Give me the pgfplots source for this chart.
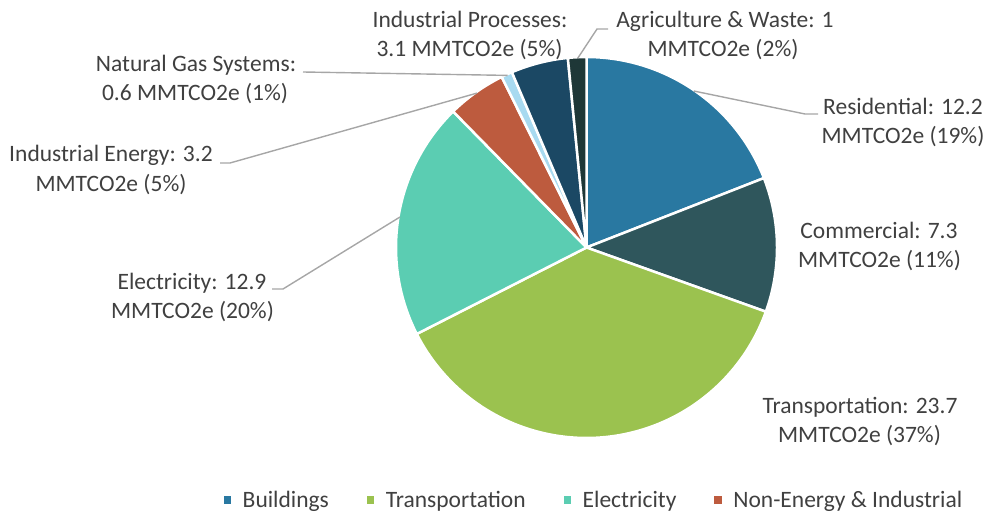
\documentclass[border=0pt]{standalone}
\usepackage{pgfplots}
\pgfplotsset{compat=1.18}
\usepackage{fontspec}
\setmainfont{Carlito}
\definecolor{cRes}{RGB}{41,120,161}
\definecolor{cCom}{RGB}{47,86,92}
\definecolor{cTra}{RGB}{155,194,79}
\definecolor{cEle}{RGB}{91,205,178}
\definecolor{cIE}{RGB}{189,91,62}
\definecolor{cNGS}{RGB}{168,218,240}
\definecolor{cIP}{RGB}{27,72,100}
\definecolor{cAg}{RGB}{30,55,55}
\definecolor{txt}{RGB}{64,64,64}
\definecolor{lead}{RGB}{166,166,166}
% values (MMTCO2e), in chart order, clockwise from 12 o'clock
\def\vRes{12.2}
\def\vCom{7.3}
\def\vTra{23.7}
\def\vEle{12.9}
\def\vIE{3.2}
\def\vNGS{0.6}
\def\vIP{3.1}
\def\vAg{1}
\newcommand{\slice}[3]{%
  \addplot[forget plot, fill=#3, draw=white, line width=2.5pt, line join=round,
    domain=#2:#1, samples=90, variable=\t]
    ({586.5+190.5*cos(\t)},{267.5+190.5*sin(\t)}) -- (axis cs:586.5,267.5) -- cycle;
}
\newcommand{\lab}[3]{\node[anchor=base, text=txt, inner sep=0pt] at (axis cs:#1,#2) {#3};}
\begin{document}
\begin{tikzpicture}
\pgfmathsetmacro\tot{\vRes+\vCom+\vTra+\vEle+\vIE+\vNGS+\vIP+\vAg}
\pgfmathsetmacro\k{360/\tot}
\pgfmathsetmacro\aO{90}
\pgfmathsetmacro\aA{90-\k*(\vRes)}
\pgfmathsetmacro\aB{90-\k*(\vRes+\vCom)}
\pgfmathsetmacro\aC{90-\k*(\vRes+\vCom+\vTra)}
\pgfmathsetmacro\aD{90-\k*(\vRes+\vCom+\vTra+\vEle)}
\pgfmathsetmacro\aE{90-\k*(\vRes+\vCom+\vTra+\vEle+\vIE)}
\pgfmathsetmacro\aF{90-\k*(\vRes+\vCom+\vTra+\vEle+\vIE+\vNGS)}
\pgfmathsetmacro\aG{90-\k*(\vRes+\vCom+\vTra+\vEle+\vIE+\vNGS+\vIP)}
\pgfmathsetmacro\aH{90-\k*(\tot)}
\useasboundingbox (0,0) rectangle (987pt,515pt);
\begin{axis}[
  scale only axis, width=987pt, height=515pt,
  xmin=0, xmax=987, ymin=0, ymax=515,
  hide axis, clip=false,
  font=\fontsize{23.5}{28.5}\selectfont,
  legend image code/.code={\fill[#1] (0pt,4pt) rectangle (6.5pt,10.5pt);},
  legend style={at={(axis cs:593,8)}, anchor=base, draw=none, fill=none,
    legend columns=-1, text=txt, inner sep=0pt,
    nodes={inner sep=0pt, anchor=base},
    /tikz/every odd column/.append style={column sep=12pt},
    /tikz/every even column/.append style={column sep=38pt}},
]
\slice{\aO}{\aA}{cRes}
\slice{\aA}{\aB}{cCom}
\slice{\aB}{\aC}{cTra}
\slice{\aC}{\aD}{cEle}
\slice{\aD}{\aE}{cIE}
\slice{\aE}{\aF}{cNGS}
\slice{\aF}{\aG}{cIP}
\slice{\aG}{\aH}{cAg}
% leader lines
\addplot[forget plot, lead, line width=1.4pt, no marks] coordinates {(608,486) (597,486) (577.7,456.7)};
\addplot[forget plot, lead, line width=1.4pt, no marks] coordinates {(303,443) (507.7,439.6)};
\addplot[forget plot, lead, line width=1.4pt, no marks] coordinates {(220,352) (230,352) (477,421.9)};
\addplot[forget plot, lead, line width=1.4pt, no marks] coordinates {(272,226) (283,226) (400,298)};
\addplot[forget plot, lead, line width=1.4pt, no marks] coordinates {(818,401) (805,401) (693.8,424)};
% labels
\lab{470}{487}{Industrial Processes:}
\lab{469.5}{458}{3.1 MMTCO2e (5\%)}
\lab{725}{487}{Agriculture \& Waste: 1}
\lab{723}{458}{MMTCO2e (2\%)}
\lab{196}{443}{Natural Gas Systems:}
\lab{195}{414}{0.6 MMTCO2e (1\%)}
\lab{111}{353}{Industrial Energy: 3.2}
\lab{111}{324}{MMTCO2e (5\%)}
\lab{192}{226}{Electricity: 12.9}
\lab{192.5}{197}{MMTCO2e (20\%)}
\lab{903}{400}{Residential: 12.2}
\lab{903}{371}{MMTCO2e (19\%)}
\lab{879}{277}{Commercial: 7.3}
\lab{879.5}{248}{MMTCO2e (11\%)}
\lab{860}{102}{Transportation: 23.7}
\lab{859.5}{73}{MMTCO2e (37\%)}
% legend
\addlegendimage{cRes}
\addlegendentry{Buildings}
\addlegendimage{cTra}
\addlegendentry{Transportation}
\addlegendimage{cEle}
\addlegendentry{Electricity}
\addlegendimage{cIE}
\addlegendentry{Non-Energy \& Industrial}
\end{axis}
\end{tikzpicture}
\end{document}
